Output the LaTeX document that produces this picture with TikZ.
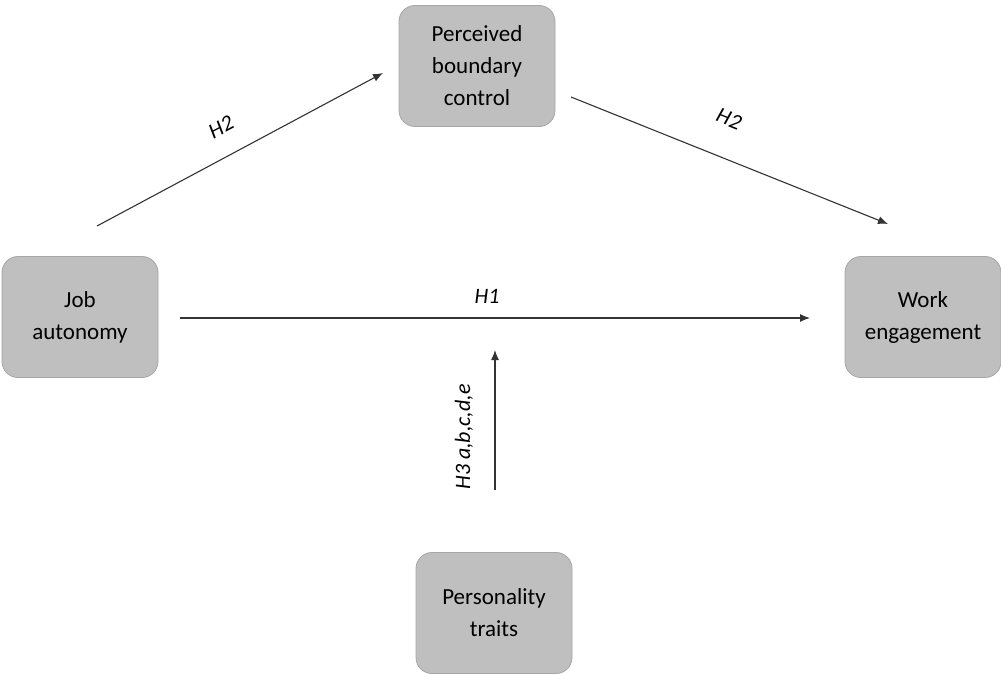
\documentclass[tikz,border=0pt]{standalone}
\usepackage{fontspec}
\setmainfont{Carlito}
\usetikzlibrary{arrows.meta}
\begin{document}
\begin{tikzpicture}[x=1pt,y=-1pt,
  box/.style={draw=black!35, line width=0.8pt, fill=black!25, rounded corners=16pt,
    minimum width=156pt, minimum height=121pt, align=center, inner sep=0pt,
    font=\fontsize{23}{32}\selectfont},
  arr/.style={draw=black!80, line width=1.1pt, -{Latex[length=10pt,width=8pt]}},
  lab/.style={font=\fontsize{22}{25}\selectfont\itshape, inner sep=0pt}]
\useasboundingbox (0,0) rectangle (1001,674);
\node[box] (pbc) at (477,66) {Perceived\\boundary\\control};
\node[box] (ja) at (80,317) {Job\\autonomy};
\node[box] (we) at (923,317) {Work\\engagement};
\node[box] (pt) at (494,613) {Personality\\traits};
\coordinate (a1) at (97,226);
\coordinate (a2) at (383,73);
\coordinate (b1) at (571,97);
\coordinate (b2) at (888,224);
\coordinate (c1) at (180,318);
\coordinate (c2) at (810,318);
\coordinate (d1) at (495,490);
\coordinate (d2) at (495,350);
\draw[arr] (a1) -- (a2);
\draw[arr] (b1) -- (b2);
\draw[arr] (c1) -- (c2);
\draw[arr] (d1) -- (d2);
\node[lab, rotate=28] (l1) at (221,127) {H2};
\node[lab, rotate=-22] (l2) at (729,119) {H2};
\node[lab] (l3) at (487,296) {H1};
\node[lab, rotate=90] (l4) at (464,437) {H3 a,b,c,d,e};
\end{tikzpicture}
\end{document}
